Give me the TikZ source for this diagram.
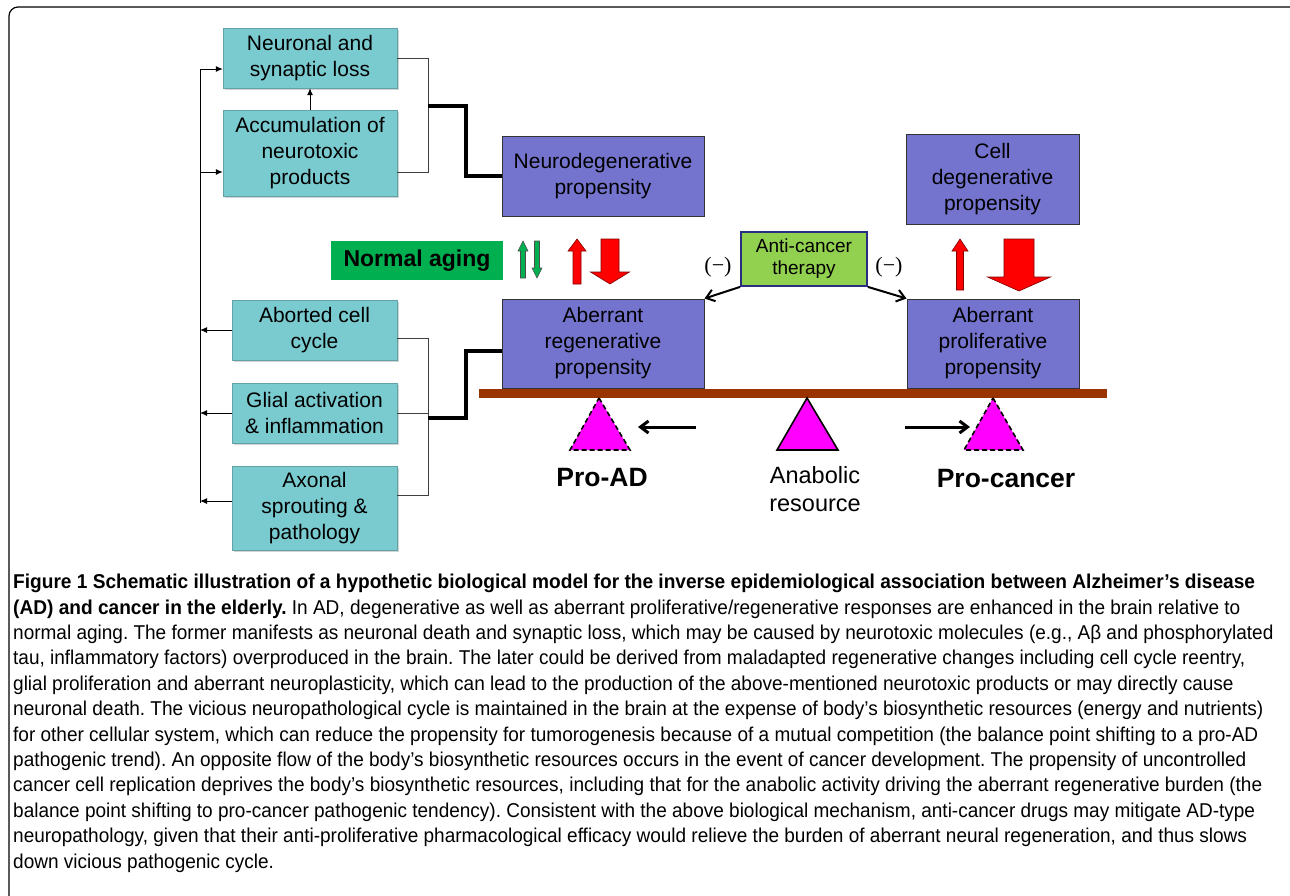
\documentclass[tikz,border=0pt]{standalone}
\usepackage{fontspec}
\setmainfont{Liberation Sans}
\newfontfamily\capfont[FakeStretch=0.95, BoldFeatures={FakeStretch=0.955}]{Liberation Sans}
\newfontfamily\timesfont{Liberation Serif}
\usetikzlibrary{arrows.meta,shadows,calc}

\definecolor{mechfill}{RGB}{122,203,208}
\definecolor{propfill}{RGB}{116,116,207}
\definecolor{drugfill}{RGB}{146,208,80}
\definecolor{drugedge}{RGB}{40,46,130}
\definecolor{agingfill}{RGB}{0,176,80}
\definecolor{beamcol}{RGB}{153,51,0}
\definecolor{trifill}{RGB}{255,0,255}

\tikzstyle{every node}=[font=\fontsize{21}{26}\selectfont, text centered, align=center]
\tikzstyle{mechbox} = [fill=mechfill, draw=mechfill!80!black, line width=0.4pt, inner sep=0pt,
  drop shadow={opacity=0.35, shadow xshift=2pt, shadow yshift=-2pt}]
\tikzstyle{propbox} = [fill=propfill, draw=black!80, line width=1pt, inner sep=0pt]
\tikzstyle{bracket} = [draw=black!75, line width=1pt]
\tikzstyle{link} = [draw, line width=3.5pt, line join=miter]
\tikzstyle{barb} = [draw, line width=2pt, -{Straight Barb[length=8pt,width=12pt]}]
\tikzstyle{tri} = [fill=trifill, draw=black, line width=1.6pt, line join=miter]

% x, top, bottom, half shaft, half head, head length, style
\newcommand{\arrowUp}[7]{%
  \draw[#7] (#1-#4,#3) -- (#1-#4,#2+#6) -- (#1-#5,#2+#6) -- (#1,#2) -- (#1+#5,#2+#6)
    -- (#1+#4,#2+#6) -- (#1+#4,#3) -- cycle;}
\newcommand{\arrowDown}[7]{%
  \draw[#7] (#1-#4,#2) -- (#1-#4,#3-#6) -- (#1-#5,#3-#6) -- (#1,#3) -- (#1+#5,#3-#6)
    -- (#1+#4,#3-#6) -- (#1+#4,#2) -- cycle;}

\begin{document}
\begin{tikzpicture}[x=1pt,y=-1pt,>={Latex[length=7pt,width=6pt]}]
  \useasboundingbox (0,0) rectangle (1290,895);
  \draw[line width=1.2pt, rounded corners=9pt] (1310,7) -- (9,7) -- (9,905);

  % mechanisms
  \node[mechbox, minimum width=174pt, minimum height=60pt] (loss) at (310,58) {Neuronal and\\synaptic loss};
  \node[mechbox, minimum width=174pt, minimum height=86pt] (accum) at (310,153) {Accumulation of\\neurotoxic\\products};
  \node[mechbox, minimum width=165pt, minimum height=60pt] (abort) at (314.5,330) {Aborted cell\\cycle};
  \node[mechbox, minimum width=165pt, minimum height=60pt] (glial) at (314.5,413) {Glial activation\\\& inflammation};
  \node[mechbox, minimum width=165pt, minimum height=84pt] (axon) at (314.5,508) {Axonal\\sprouting \&\\pathology};

  % propensities
  \node[propbox, minimum width=202pt, minimum height=80pt] (neurodeg) at (603,176) {Neurodegenerative\\propensity};
  \node[propbox, minimum width=173pt, minimum height=90pt] (celldeg) at (992.5,179) {Cell\\degenerative\\propensity};
  \node[propbox, minimum width=202pt, minimum height=89pt] (aberReg) at (603,343.5) {Aberrant\\regenerative\\propensity};
  \node[propbox, minimum width=172pt, minimum height=89pt] (aberPro) at (993,343.5) {Aberrant\\proliferative\\propensity};

  \node[fill=drugfill, draw=drugedge, line width=1.8pt, inner sep=0pt, minimum width=126pt, minimum height=54pt,
    font=\fontsize{19}{22}\selectfont] (therapy) at (804,259) {Anti-cancer\\therapy};
  \node[fill=agingfill, inner sep=0pt, minimum width=172pt, minimum height=39pt,
    font=\fontsize{23}{26}\selectfont\bfseries] (aging) at (417,260.5) {Normal aging};

  % left rail
  \coordinate (railTop) at (200,69);
  \coordinate (railBot) at (200,503);
  \coordinate (lossIn) at ([yshift=-11pt]loss.west);
  \coordinate (accIn) at ([yshift=-19pt]accum.west);
  \coordinate (axonOut) at ([yshift=7pt]axon.west);
  \draw[line width=1pt] (railTop) -- (railBot);
  \draw[->, line width=1pt] (railTop) -- (lossIn);
  \draw[->, line width=1pt] (railTop |- accIn) -- (accIn);
  \draw[->, line width=1pt] (abort.west) -- (abort.west -| railTop);
  \draw[->, line width=1pt] (glial.west) -- (glial.west -| railTop);
  \draw[->, line width=1pt] (axonOut) -- (axonOut -| railTop);
  \draw[->, line width=1pt] (accum.north) -- (loss.south);

  % brackets
  \coordinate (accOut) at ([yshift=-19pt]accum.east);
  \draw[bracket] (loss.east) -- ++(31,0) |- (accOut);
  \coordinate (topJoin) at (428,106);
  \draw[link] (topJoin) -- ++(38,0) |- (neurodeg.west);
  \coordinate (abortOut) at ([yshift=-8pt]abort.east);
  \coordinate (axonIn) at ([yshift=13pt]axon.east);
  \draw[bracket] (abortOut) -- ++(31,0) |- (axonIn);
  \draw[bracket] (glial.east) -- ++(31,0);
  \coordinate (botJoin) at (428,418);
  \coordinate (regIn) at ([yshift=-7.5pt]aberReg.west);
  \draw[link] (botJoin) -- ++(38,0) |- (regIn);

  % therapy
  \draw[barb] (therapy.south west) -- (aberReg.north east);
  \draw[barb] (therapy.south east) -- (aberPro.north west);
  \node[font=\fontsize{22}{24}\selectfont\timesfont] (minusL) at (718,267) {(\textminus)};
  \node[font=\fontsize{22}{24}\selectfont\timesfont] (minusR) at (889,267) {(\textminus)};

  % up and down
  \arrowUp{523}{241}{278}{2.5}{5}{10}{fill=agingfill, draw=black!70, line width=0.6pt}
  \arrowDown{537}{241}{278}{2.5}{5}{10}{fill=agingfill, draw=black!70, line width=0.6pt}
  \arrowUp{577}{239}{284}{4}{9}{12}{fill=red, draw=red!50!black, line width=0.6pt}
  \arrowDown{610}{239}{284}{9}{19.5}{12}{fill=red, draw=red!50!black, line width=0.6pt}
  \arrowUp{960}{239}{290}{3.5}{8}{12}{fill=red, draw=red!50!black, line width=0.6pt}
  \arrowDown{1019}{239}{291}{15}{31.5}{14}{fill=red, draw=red!50!black, line width=0.6pt}

  % balance
  \fill[beamcol] (479,389) rectangle (1107,398);
  \draw[tri, dashed, dash pattern=on 5pt off 3pt] (599,398) -- (630,450) -- (570,450) -- cycle;
  \draw[tri] (807,398) -- (838,450) -- (777,450) -- cycle;
  \draw[tri, dashed, dash pattern=on 5pt off 3pt] (993,398) -- (1023,450) -- (964,450) -- cycle;
  \coordinate (adStart) at (696,427);
  \coordinate (adEnd) at (638,427);
  \coordinate (caStart) at (905,427);
  \coordinate (caEnd) at (970,427);
  \draw[barb, line width=3pt] (adStart) -- (adEnd);
  \draw[barb, line width=3pt] (caStart) -- (caEnd);
  \node[font=\fontsize{26.5}{28}\selectfont\bfseries] (proAD) at (602,478) {Pro-AD};
  \node[font=\fontsize{23.5}{28}\selectfont] (anabolic) at (815,489) {Anabolic\\resource};
  \node[font=\fontsize{26.5}{28}\selectfont\bfseries] (proCancer) at (1006,479) {Pro-cancer};

  % caption
  \node[anchor=north west, inner sep=0pt, align=left,
    font=\capfont\fontsize{20}{25.4}\selectfont\frenchspacing] (caption) at (13,574) {%
  \textbf{Figure 1 Schematic illustration of a hypothetic biological model for the inverse epidemiological association between Alzheimer’s disease}\\
  \textbf{(AD) and cancer in the elderly.} In AD, degenerative as well as aberrant proliferative/regenerative responses are enhanced in the brain relative to\\
  normal aging. The former manifests as neuronal death and synaptic loss, which may be caused by neurotoxic molecules (e.g., Aβ and phosphorylated\\
  tau, inflammatory factors) overproduced in the brain. The later could be derived from maladapted regenerative changes including cell cycle reentry,\\
  glial proliferation and aberrant neuroplasticity, which can lead to the production of the above-mentioned neurotoxic products or may directly cause\\
  neuronal death. The vicious neuropathological cycle is maintained in the brain at the expense of body’s biosynthetic resources (energy and nutrients)\\
  for other cellular system, which can reduce the propensity for tumorogenesis because of a mutual competition (the balance point shifting to a pro-AD\\
  pathogenic trend). An opposite flow of the body’s biosynthetic resources occurs in the event of cancer development. The propensity of uncontrolled\\
  cancer cell replication deprives the body’s biosynthetic resources, including that for the anabolic activity driving the aberrant regenerative burden (the\\
  balance point shifting to pro-cancer pathogenic tendency). Consistent with the above biological mechanism, anti-cancer drugs may mitigate AD-type\\
  neuropathology, given that their anti-proliferative pharmacological efficacy would relieve the burden of aberrant neural regeneration, and thus slows\\
  down vicious pathogenic cycle.};
\end{tikzpicture}
\end{document}
